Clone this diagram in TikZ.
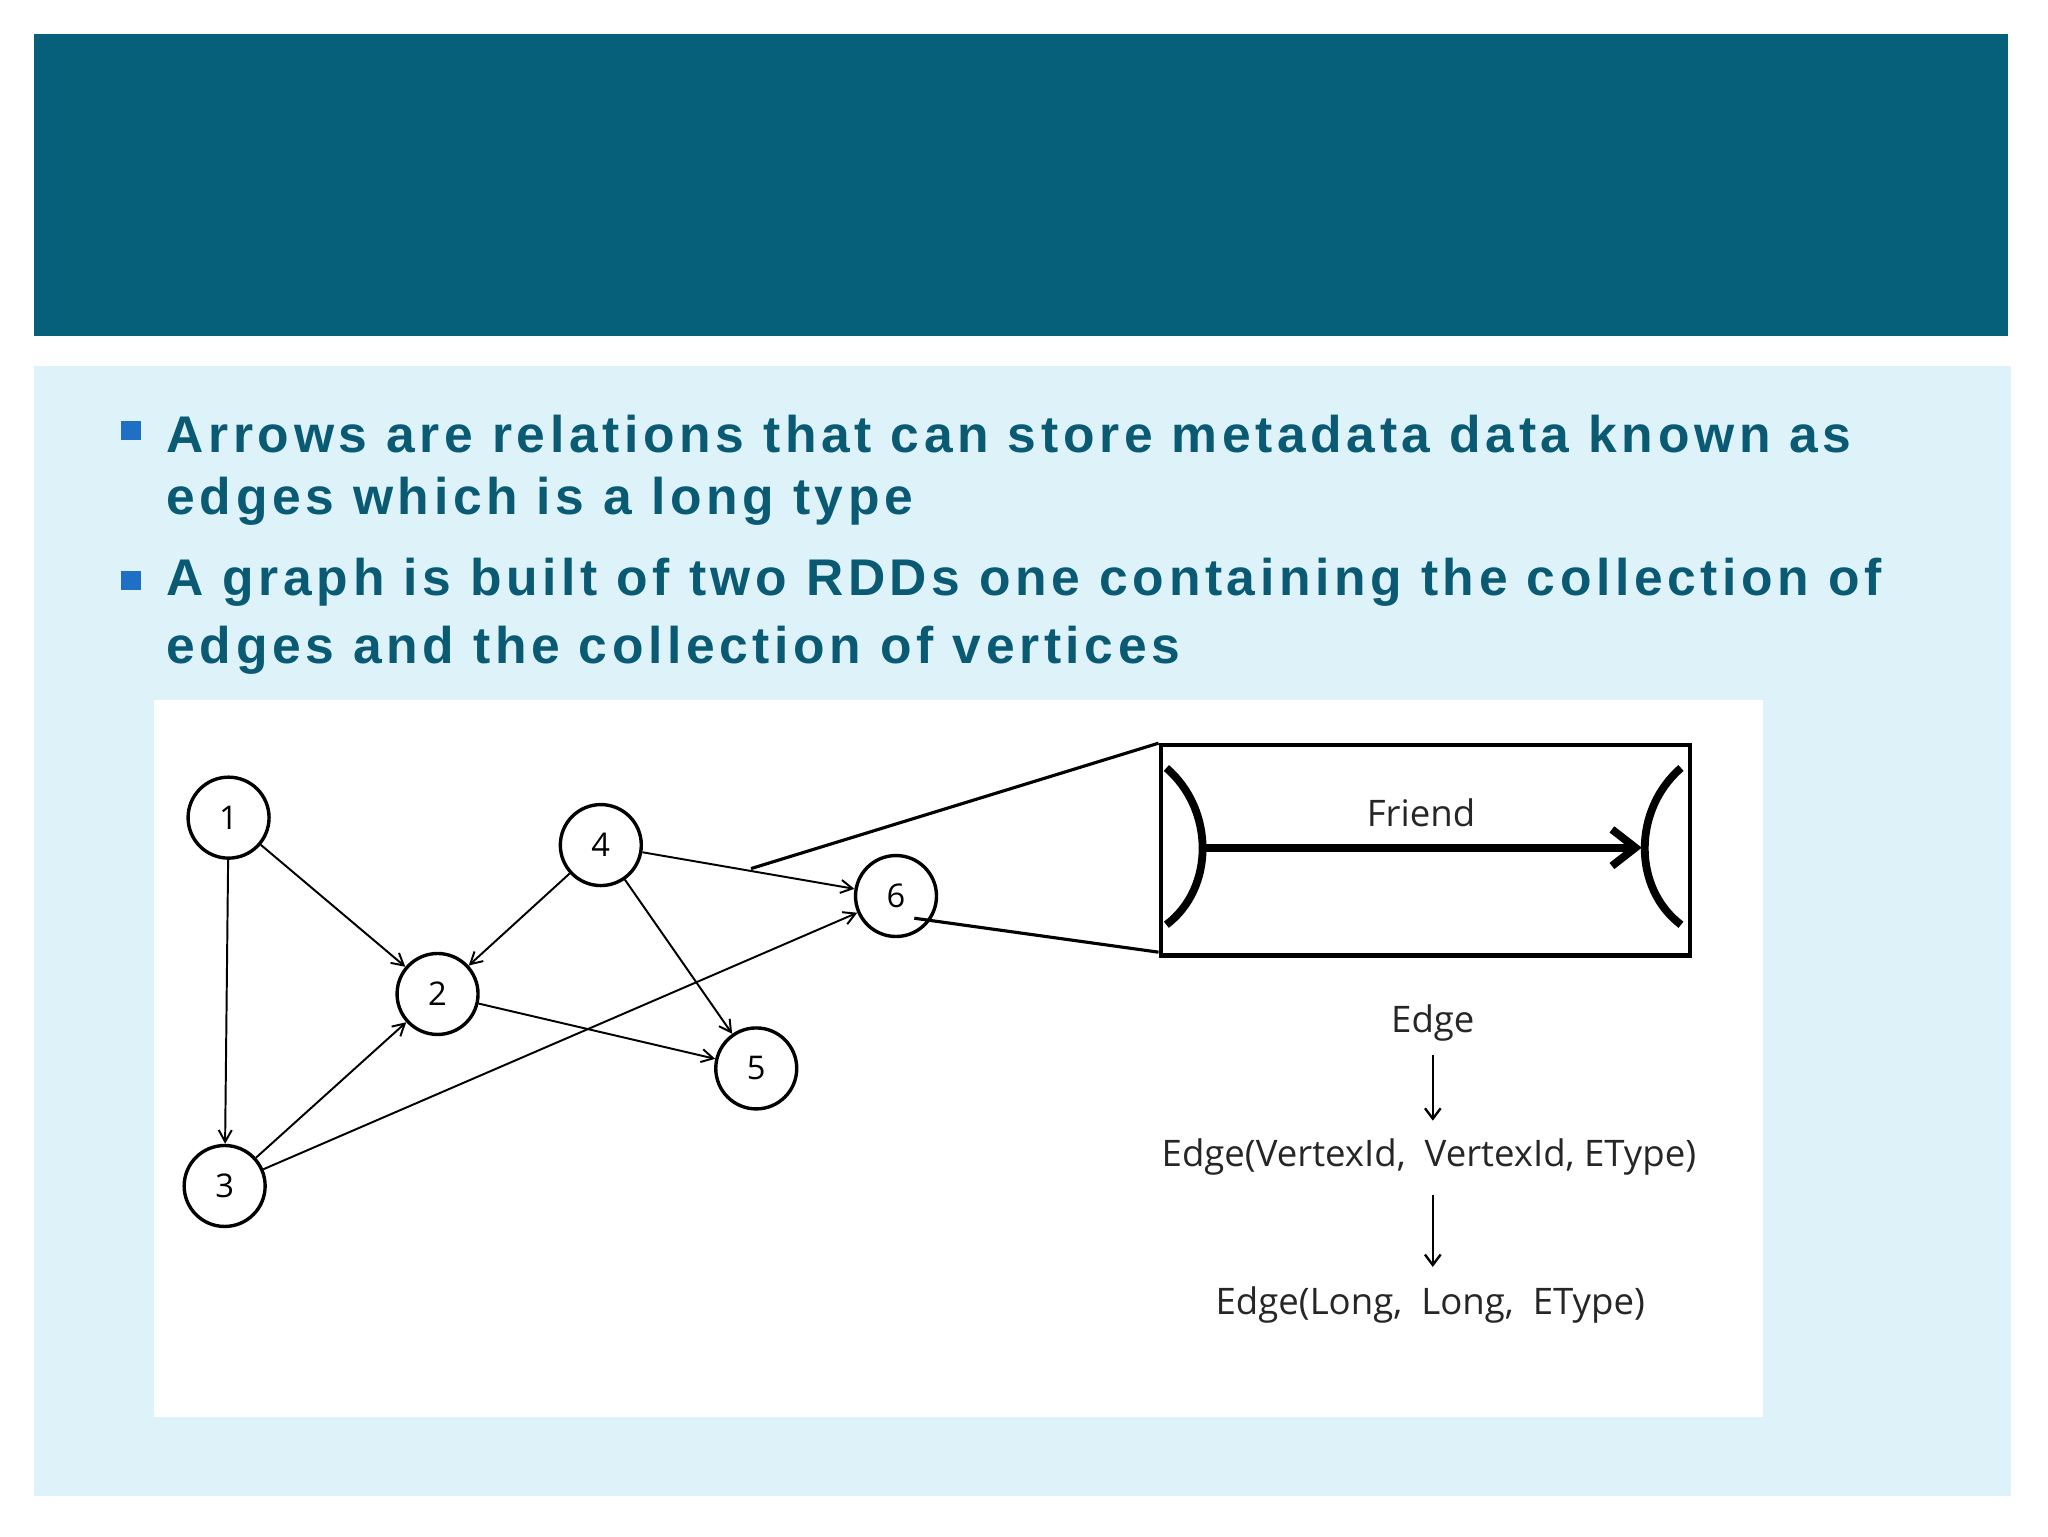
\documentclass[tikz,border=0pt]{standalone}
\usepackage{fontspec}
\setmainfont{Open Sans}
\newfontfamily\headfont[LetterSpace=9]{Liberation Sans Bold}
\usetikzlibrary{arrows.meta}
\definecolor{bar}{HTML}{06607A}
\definecolor{panel}{HTML}{DDF3F9}
\definecolor{bul}{HTML}{1F6FC5}
\definecolor{txt}{HTML}{0B5A74}
\begin{document}
\begin{tikzpicture}[x=1pt,y=-1pt,
  vtx/.style={circle,draw,line width=2.6pt,minimum size=62pt,inner sep=0pt,font=\fontsize{25}{25}\selectfont},
  edg/.style={line width=1.5pt,-{Straight Barb[length=9pt,width=10pt]}},
  lbl/.style={font=\fontsize{28}{30}\selectfont,text=black!85},
  btxt/.style={anchor=west,text=txt,font=\headfont\fontsize{39.5}{44}\selectfont}]
\useasboundingbox (0,0) rectangle (1568,1176);
\fill[white] (0,0) rectangle (1568,1176);
\fill[bar] (26,26) rectangle (1537,257);
\fill[panel] (26,280) rectangle (1540,1145);
\fill[white] (118,536) rectangle (1350,1085);
\fill[bul] (93,322) rectangle (108,337);
\fill[bul] (93,437) rectangle (108,452);
\node[btxt] (l1) at (124,332) {Arrows are relations that can store metadata data known as};
\node[btxt] (l2) at (124,384) {edges which is a long type};
\node[btxt] (l3) at (124,446) {A graph is built of two RDDs one containing the collection of};
\node[btxt] (l4) at (124,498) {edges and the collection of vertices};
\node[vtx] (n1) at (175,626) {1};
\node[vtx] (n2) at (335,761) {2};
\node[vtx] (n3) at (172,908) {3};
\node[vtx] (n4) at (460,647) {4};
\node[vtx] (n5) at (579,818) {5};
\node[vtx] (n6) at (686,686) {6};
\draw[edg] (n1) -- (n2);
\draw[edg] (n1) -- (n3);
\draw[edg] (n4) -- (n2);
\draw[edg] (n4) -- (n5);
\draw[edg] (n4) -- (n6);
\draw[edg] (n2) -- (n5);
\draw[edg] (n3) -- (n2);
\draw[edg] (n3) -- (n6);
\coordinate (z1) at (575,665);
\coordinate (z2) at (700,703);
\draw[line width=2.4pt] (z1) -- (887,569);
\draw[line width=2.4pt] (z2) -- (887,729);
\node[draw,line width=3.2pt,minimum width=405pt,minimum height=161pt,anchor=north west] (box) at (887,569) {};
\draw[line width=6pt] (893,588) .. controls (930,620) and (930,680) .. (893,708);
\draw[line width=6pt] (1287,588) .. controls (1250,620) and (1250,680) .. (1287,708);
\coordinate (fa) at (922,649);
\coordinate (fb) at (1257,649);
\draw[line width=6pt,-{Straight Barb[length=18pt,width=28pt,line width=6pt]}] (fa) -- (fb);
\node[lbl] (fr) at (1088,622) {Friend};
\node[lbl] (e1) at (1097,783) {Edge};
\node[lbl] (e2) at (1094,886) {Edge(VertexId,\ \ VertexId, EType)};
\node[lbl] (e3) at (1095,999) {Edge(Long,\ \ Long,\ \ EType)};
\draw[line width=1.8pt,-{Straight Barb[length=8pt,width=12pt]}] (1097,808) -- (1097,858);
\draw[line width=1.8pt,-{Straight Barb[length=8pt,width=12pt]}] (1097,915) -- (1097,970);
\end{tikzpicture}
\end{document}
